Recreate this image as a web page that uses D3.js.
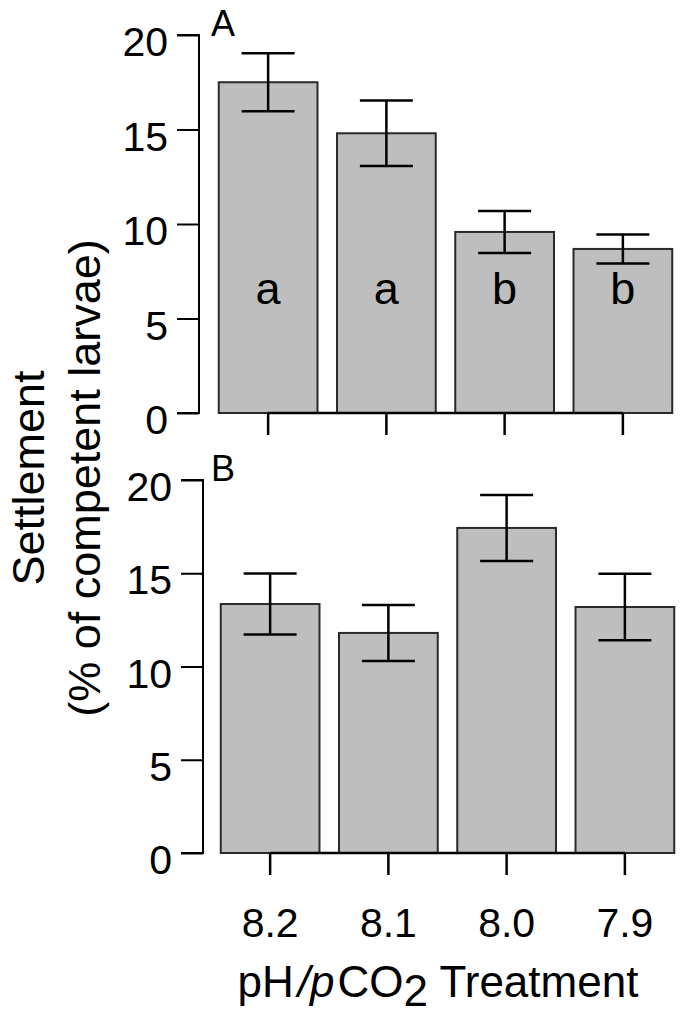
<!DOCTYPE html>
<html>
<head>
<meta charset="utf-8">
<script src="https://cdn.jsdelivr.net/npm/d3@7"></script>
<style>
  html, body { margin: 0; padding: 0; background: #fff; }
  svg { display: block; }
  text { font-family: "Liberation Sans", Arial, sans-serif; fill: #000; }
</style>
</head>
<body>
<svg id="chart" width="685" height="1016"></svg>
<script>
// ---- data ----
const categories = ["8.2", "8.1", "8.0", "7.9"];
const meanA = [17.5, 14.8, 9.58, 8.68];
const seA = [1.53, 1.73, 1.11, 0.77];
const lettersA = ["a", "a", "b", "b"];
const meanB = [13.35, 11.8, 17.43, 13.19];
const seB = [1.63, 1.5, 1.77, 1.78];
const yTicks = [0, 5, 10, 15, 20];
const panelLabels = ["A", "B"];

const svg = d3.select("#chart");

const panels = [
  { mean: meanA, se: seA, letters: lettersA, label: panelLabels[0],
    yRange: [413, 35], axisX: 199, xRange: [209, 682], labelX: 168 },
  { mean: meanB, se: seB, letters: null, label: panelLabels[1],
    yRange: [853, 480], axisX: 203, xRange: [211, 684], labelX: 172 }
];

panels.forEach(p => {
  const g = svg.append("g");
  const x = d3.scaleBand().domain(categories).range(p.xRange)
    .paddingInner(0.165).paddingOuter(0.0825);
  const y = d3.scaleLinear().domain([0, 20]).range(p.yRange);
  const y0 = y(0);

  // bars
  g.selectAll("rect.bar").data(categories).join("rect")
    .attr("class", "bar")
    .attr("x", d => x(d))
    .attr("width", x.bandwidth())
    .attr("y", (d, i) => y(p.mean[i]))
    .attr("height", (d, i) => y0 - y(p.mean[i]))
    .attr("fill", "#bebebe")
    .attr("stroke", "#2a2a2a")
    .attr("stroke-width", 2);

  // error bars
  const cx = d => x(d) + x.bandwidth() / 2;
  const capHalf = 26.5;
  const eg = g.selectAll("g.err").data(categories).join("g").attr("class", "err")
    .attr("stroke", "#000").attr("stroke-width", 2.5).attr("fill", "none");
  eg.append("line")
    .attr("x1", cx).attr("x2", cx)
    .attr("y1", (d, i) => y(p.mean[i] + p.se[i]))
    .attr("y2", (d, i) => y(p.mean[i] - p.se[i]));
  eg.append("line")
    .attr("x1", d => cx(d) - capHalf).attr("x2", d => cx(d) + capHalf)
    .attr("y1", (d, i) => y(p.mean[i] + p.se[i]))
    .attr("y2", (d, i) => y(p.mean[i] + p.se[i]));
  eg.append("line")
    .attr("x1", d => cx(d) - capHalf).attr("x2", d => cx(d) + capHalf)
    .attr("y1", (d, i) => y(p.mean[i] - p.se[i]))
    .attr("y2", (d, i) => y(p.mean[i] - p.se[i]));

  // significance letters
  if (p.letters) {
    g.selectAll("text.letter").data(categories).join("text")
      .attr("class", "letter")
      .attr("x", cx)
      .attr("y", 304)
      .attr("text-anchor", "middle")
      .attr("font-size", 45)
      .text((d, i) => p.letters[i]);
  }

  // y axis
  const ya = g.append("g").attr("transform", `translate(${p.axisX},0)`)
    .call(d3.axisLeft(y).tickValues(yTicks).tickSize(22).tickPadding(0).tickFormat(d3.format("d")));
  ya.select(".domain").attr("d", `M-22,${y(20)}H0V${y(0)}H-22`).attr("stroke-width", 2);
  ya.selectAll(".tick line").attr("stroke-width", 2);
  ya.selectAll(".tick text")
    .attr("x", p.labelX - p.axisX)
    .attr("dy", "0.5em")
    .attr("font-size", 41)
    .attr("font-family", "Liberation Sans, Arial, sans-serif")
    .attr("fill", "#000");

  // x axis (line from first to last tick, R-style)
  const xa = g.append("g").attr("transform", `translate(0,${y0})`)
    .call(d3.axisBottom(x).tickSize(22).tickFormat(p.letters ? "" : d => d).tickPadding(0));
  const first = cx(categories[0]), last = cx(categories[categories.length - 1]);
  xa.select(".domain").attr("d", `M${first},0H${last}`).attr("stroke-width", 2.5);
  xa.selectAll(".tick line").attr("stroke-width", 2.5);
  xa.selectAll(".tick text")
    .attr("y", 84)
    .attr("dy", 0)
    .attr("font-size", 41)
    .attr("font-family", "Liberation Sans, Arial, sans-serif")
    .attr("fill", "#000");

  // panel label
  g.append("text")
    .attr("x", 211)
    .attr("y", y(20) + 1)
    .attr("font-family", "DejaVu Sans, sans-serif")
    .attr("font-size", 36)
    .text(p.label);
});

// x title
const xt = svg.append("text")
  .attr("x", 438).attr("y", 997)
  .attr("text-anchor", "middle")
  .attr("font-size", 44);
xt.append("tspan").text("pH");
xt.append("tspan").text("/").attr("font-style", "italic").attr("dx", 4);
xt.append("tspan").text("p").attr("font-style", "italic");
xt.append("tspan").text("CO").attr("dx", 3);
xt.append("tspan").text("2").attr("dy", 9);
xt.append("tspan").text(" Treatment").attr("dy", -9);

// y title
const yt = svg.append("g").attr("transform", "translate(0,478) rotate(-90)");
yt.append("text").attr("x", 0).attr("y", 44).attr("text-anchor", "middle")
  .attr("font-size", 45).text("Settlement");
yt.append("text").attr("x", 0).attr("y", 100).attr("text-anchor", "middle")
  .attr("font-size", 45).text("(% of competent larvae)");
</script>
</body>
</html>
